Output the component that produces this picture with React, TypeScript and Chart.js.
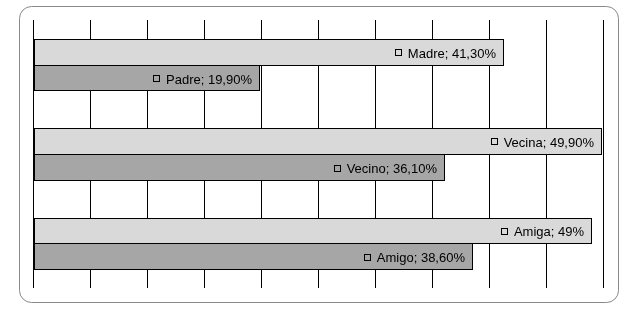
import React, { useEffect, useRef } from "react";
import { Chart, registerables } from "chart.js";

Chart.register(...registerables);

const categories = ["Madre / Padre", "Vecina / Vecino", "Amiga / Amigo"];
const femaleNames = ["Madre", "Vecina", "Amiga"];
const maleNames = ["Padre", "Vecino", "Amigo"];
const femaleValues = [41.3, 49.9, 49];
const maleValues = [19.9, 36.1, 38.6];
const axisMin = 0;
const axisMax = 50;
const axisStep = 5;

function fmt(v: number): string {
  if (Number.isInteger(v)) return `${v}%`;
  return `${v.toFixed(2).replace(".", ",")}%`;
}

const frame = {
  id: "frame",
  beforeDraw(chart: any) {
    const ctx = chart.ctx;
    ctx.save();
    ctx.fillStyle = "#ffffff";
    ctx.fillRect(0, 0, chart.width, chart.height);
    const x = 19.5, y = 6.5, w = 599, h = 296, r = 12;
    ctx.beginPath();
    ctx.moveTo(x + r, y);
    ctx.lineTo(x + w - r, y);
    ctx.arcTo(x + w, y, x + w, y + r, r);
    ctx.lineTo(x + w, y + h - r);
    ctx.arcTo(x + w, y + h, x + w - r, y + h, r);
    ctx.lineTo(x + r, y + h);
    ctx.arcTo(x, y + h, x, y + h - r, r);
    ctx.lineTo(x, y + r);
    ctx.arcTo(x, y, x + r, y, r);
    ctx.closePath();
    ctx.strokeStyle = "#8a8a8a";
    ctx.lineWidth = 1;
    ctx.stroke();
    ctx.restore();
  },
};

// snap bar elements to whole pixels so borders are crisp
const snapPlugin = {
  id: "snapBars",
  afterDatasetsUpdate(chart: any) {
    chart.data.datasets.forEach((_ds: any, di: number) => {
      const meta = chart.getDatasetMeta(di);
      meta.data.forEach((el: any) => {
        let top = Math.round(el.y - el.height / 2);
        let bottom = Math.round(el.y + el.height / 2) + 1;
        if (di === 1) top = top + 1;
        el.height = bottom - top;
        el.y = (top + bottom) / 2;
        el.x = Math.round(el.x);
        el.base = Math.round(el.base);
      });
    });
  },
};

const labelsPlugin = {
  id: "barLabels",
  afterDatasetsDraw(chart: any) {
    const ctx = chart.ctx;
    ctx.save();
    ctx.font = '13px "Liberation Sans", Arial, sans-serif';
    ctx.textBaseline = "alphabetic";
    ctx.textAlign = "right";
    chart.data.datasets.forEach((ds: any, di: number) => {
      const meta = chart.getDatasetMeta(di);
      meta.data.forEach((bar: any, i: number) => {
        const names = di === 0 ? femaleNames : maleNames;
        const text = `${names[i]}; ${fmt(ds.data[i])}`;
        const xEnd = bar.x - 8;
        const center = bar.y;
        ctx.fillStyle = "#000000";
        ctx.fillText(text, xEnd, Math.round(center + 5));
        const tw = ctx.measureText(text).width;
        const sx = Math.round(xEnd - tw - 13) + 0.5;
        const sy = Math.floor(center) - 3 + 0.5;
        ctx.fillStyle = di === 0 ? "#d9d9d9" : "#a6a6a6";
        ctx.fillRect(sx, sy, 6, 6);
        ctx.strokeStyle = "#000000";
        ctx.lineWidth = 1;
        ctx.strokeRect(sx, sy, 6, 6);
      });
    });
    ctx.restore();
  },
};

export default function App() {
  const ref = useRef<HTMLCanvasElement | null>(null);
  useEffect(() => {
    if (!ref.current) return;
    const chart = new Chart(ref.current, {
      type: "bar",
      data: {
        labels: categories,
        datasets: [
          {
            label: "Femenino",
            data: femaleValues,
            backgroundColor: "#d9d9d9",
            borderColor: "#000000",
            borderWidth: 1,
            borderSkipped: false,
          },
          {
            label: "Masculino",
            data: maleValues,
            backgroundColor: "#a6a6a6",
            borderColor: "#000000",
            borderWidth: { top: 0, right: 1, bottom: 1, left: 1 },
            borderSkipped: false,
          },
        ],
      },
      options: {
        indexAxis: "y",
        animation: false,
        responsive: false,
        maintainAspectRatio: false,
        layout: { padding: { left: 33, right: 26, top: 20, bottom: 21 } },
        plugins: {
          legend: { display: false },
          tooltip: { enabled: false },
        },
        datasets: {
          bar: { categoryPercentage: 0.571, barPercentage: 1 },
        },
        scales: {
          x: {
            min: axisMin,
            max: axisMax,
            ticks: { display: false, stepSize: axisStep },
            grid: { color: "#000000", lineWidth: 1, drawTicks: false },
            border: { display: false },
            afterFit: (s: any) => {
              s.height = 0;
            },
          },
          y: {
            display: false,
          },
        },
      },
      plugins: [frame, snapPlugin, labelsPlugin],
    });
    return () => chart.destroy();
  }, []);
  return (
    <div style={{ position: "absolute", left: 0, top: 0, width: 629, height: 309 }}>
      <canvas ref={ref} width={629} height={309} style={{ width: 629, height: 309 }} />
    </div>
  );
}
